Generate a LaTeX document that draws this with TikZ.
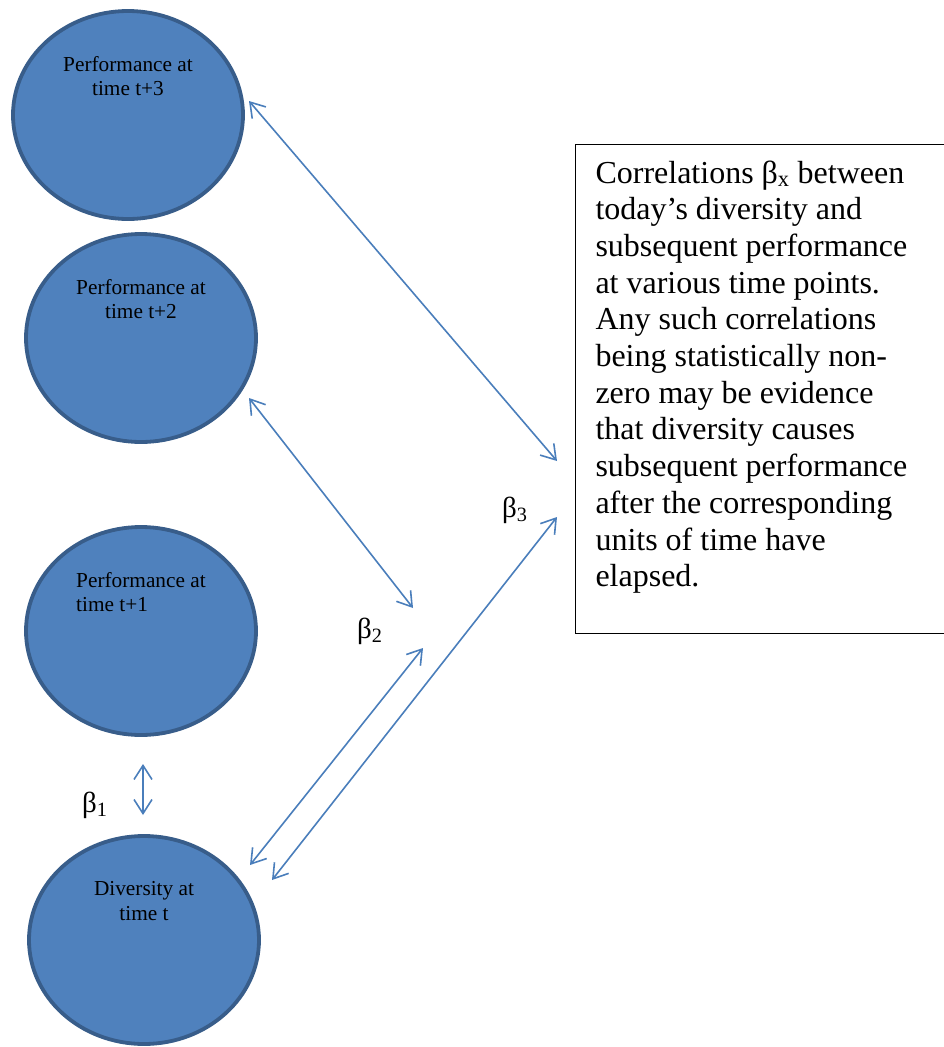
\documentclass[tikz,border=0pt]{standalone}
\usepackage{fontspec}
\setmainfont{Liberation Serif}
\usetikzlibrary{arrows.meta,shapes.geometric}
\definecolor{ellfill}{HTML}{4F81BD}
\definecolor{ellline}{HTML}{385D8A}
\definecolor{arrcol}{HTML}{4A7EBB}

\begin{document}
\begin{tikzpicture}[x=1pt,y=-1pt,
perf/.style={ellipse,fill=ellfill,draw=ellline,line width=3.8pt,minimum width=230pt,minimum height=208pt,inner sep=0pt},
intext/.style={font=\fontsize{21.3}{24.6}\selectfont,align=center,inner sep=0pt,anchor=north,yshift=-47pt},
beta/.style={font=\fontsize{29}{34}\selectfont,inner sep=0pt,anchor=base west},
arrow/.style={{Straight Barb[length=14pt,width=18pt]}-{Straight Barb[length=14pt,width=18pt]},draw=arrcol,line width=1.6pt},
note/.style={draw=black,line width=1pt,anchor=north west,inner xsep=20pt,inner ysep=16pt,font=\fontsize{32}{36.7}\selectfont}]

\useasboundingbox (0,0) rectangle (943,1047);

\node[perf,label={[intext]north:{Performance at\\time t+3}}] (t3) at (128,115) {};

\node[perf,label={[intext]north:{Performance at\\time t+2}}] (t2) at (141,338) {};

\node[perf,label={[intext,align=left,anchor=north west,xshift=-65pt]north:{Performance at\\time t+1}}] (t1) at (141,631) {};

\node[perf,label={[intext]north:{Diversity at\\time t}}] (div) at (144,940) {};

\node[note] (note) at (575,144) {\parbox[c][457pt][t]{340pt}{\raggedright
Correlations β\textsubscript{x} between\\
today’s diversity and\\
subsequent performance\\
at various time points.\\
Any such correlations\\
being statistically non-\\
zero may be evidence\\
that diversity causes\\
subsequent performance\\
after the corresponding\\
units of time have\\
elapsed.}};

\node[beta] (b1) at (82,812) {β\textsubscript{1}};
\node[beta] (b2) at (357,638) {β\textsubscript{2}};
\node[beta] (b3) at (502,517) {β\textsubscript{3}};

% arrow ends
\coordinate (a3) at (249,101);
\coordinate (z3) at (557,461);
\coordinate (a2) at (249,398);
\coordinate (z2) at (413,608);
\coordinate (a1) at (143,764);
\coordinate (z1) at (143,815);
\coordinate (d2) at (250,865);
\coordinate (e2) at (423,648);
\coordinate (d3) at (272,880);
\coordinate (e3) at (557,517);

\draw[arrow] (a3) -- (z3);
\draw[arrow] (a2) -- (z2);
\draw[arrow] (a1) -- (z1);
\draw[arrow] (d2) -- (e2);
\draw[arrow] (d3) -- (e3);

\end{tikzpicture}
\end{document}
